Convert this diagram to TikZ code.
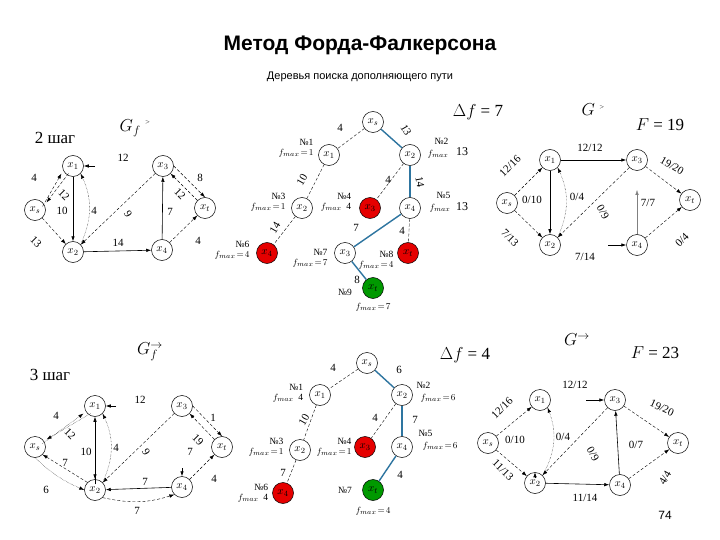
\documentclass[tikz,border=0pt]{standalone}
\usepackage{fontspec}
\setmainfont{Liberation Serif}
\setsansfont{Liberation Sans}
\usetikzlibrary{arrows.meta}
\begin{document}
\begin{tikzpicture}[x=1pt,y=-1pt,
 v/.style={circle,draw,line width=0.5pt,minimum size=21pt,inner sep=0pt,font=\fontsize{11}{11}\selectfont},
 rv/.style={v,fill=red!90!black},
 gv/.style={v,fill=green!60!black},
 lb/.style={font=\fontsize{11}{11}\selectfont,inner sep=1pt},
 fl/.style={font=\fontsize{9.5}{10}\selectfont,inner sep=1pt},
 ar/.style={-{Latex[length=5pt,width=3.5pt]},line width=0.4pt},
 da/.style={ar,densely dashed},
 dt/.style={ar,densely dotted},
 sl/.style={ar,line width=0.6pt},
 te/.style={densely dashed,line width=0.4pt},
 bl/.style={line width=1.4pt,draw={rgb,255:red,46;green,117;blue,160}}]
\useasboundingbox[fill=white] (0,0) rectangle (720,540);
\node[font=\sffamily\bfseries\fontsize{21}{21}\selectfont] (title) at (360,45) {Метод Форда-Фалкерсона};
\node[font=\sffamily\fontsize{11}{11}\selectfont] (sub) at (360,77) {Деревья поиска дополняющего пути};

% ---------- panel 1: G_f step 2
\node[font=\fontsize{17}{17}\selectfont] (s2) at (55,138) {2 шаг};
\node[font=\fontsize{17}{17}\selectfont] (gf1) at (135,128) {$G_f$ \raisebox{1ex}{\tiny$>$}};
\node[v] (a1) at (73,166) {$x_1$};
\node[v] (a3) at (163,166) {$x_3$};
\node[v] (as) at (35,210) {$x_s$};
\node[v] (at) at (205,208) {$x_t$};
\node[v] (a2) at (73,252) {$x_2$};
\node[v] (a4) at (162,250) {$x_4$};
\coordinate (a1r) at (95,166);
\draw[sl] (a1r) -- (a1);
\draw[da] ([yshift=-4]as.north east) -- ([xshift=-4]a1.south west);
\draw[da] ([xshift=3]a1.south west) -- ([xshift=4]as.north east);
\draw[da] (as) -- (a2);
\draw[sl] (a1) -- (a2);
\draw[dt] (a2.north east) to[bend right=25] (a1.south east);
\draw[da] (a3) -- (a2);
\draw[sl] (a2) -- (a4);
\draw[sl] (a4) -- (a3);
\draw[da] (a3.east) -- (at.north);
\draw[da] (at.north west) -- (a3.south east);
\draw[da] (a4) -- (at);
\node[lb] (l11) at (34,178) {4};
\node[lb,rotate=-45] (l12) at (64,195) {12};
\node[lb] (l13) at (123,158) {12};
\node[lb] (l14) at (62,211) {10};
\node[lb] (l15) at (94,211) {4};
\node[lb,rotate=-60] (l16) at (128,214) {9};
\node[lb] (l17) at (170,212) {7};
\node[lb] (l18) at (200,178) {8};
\node[lb,rotate=-45] (l19) at (180,194) {12};
\node[lb,rotate=-45] (l110) at (36,242) {13};
\node[lb] (l111) at (118,243) {14};
\node[lb] (l112) at (198,241) {4};

% ---------- panel 2: tree step 2
\node[v] (b0) at (373,122) {$x_s$};
\node[v] (b1) at (329,155) {$x_1$};
\node[v] (b2) at (410,155) {$x_2$};
\node[v] (b3) at (302,208) {$x_2$};
\node[rv] (b4) at (370,208) {$x_3$};
\node[v] (b5) at (410,208) {$x_4$};
\node[rv] (b6) at (267,253) {$x_4$};
\node[v] (b7) at (345,253) {$x_3$};
\node[rv] (b8) at (408,253) {$x_t$};
\node[gv] (b9) at (373,288) {$x_t$};
\draw[te] (b0) -- (b1);
\draw[bl] (b0) -- (b2);
\draw[te] (b1) -- (b3);
\draw[te] (b2) -- (b4);
\draw[bl] (b2) -- (b5);
\draw[te] (b3) -- (b6);
\draw[bl] (b5) -- (b7);
\draw[te] (b5) -- (b8);
\draw[bl] (b7) -- (b9);
\node[lb] (m1) at (340,128) {4};
\node[lb,rotate=-60] (m2) at (406,130) {13};
\node[lb,rotate=60] (m3) at (302,180) {10};
\node[lb] (m4) at (388,180) {4};
\node[lb,rotate=-80] (m5) at (420,182) {14};
\node[lb,rotate=60] (m6) at (275,228) {14};
\node[lb] (m7) at (356,228) {7};
\node[lb] (m8) at (402,231) {4};
\node[lb] (m9) at (357,280) {8};
\node[fl,align=right] (n1) at (296,148) {№1\\$f_{max}\!=\!1$};
\node[fl,align=right] (n2) at (434,148) {№2\\[2pt]\hspace*{8pt}$f_{max}$};
\node[fl,align=right] (n3) at (268,202) {№3\\$f_{max}\!=\!1$};
\node[fl,align=right] (n4) at (336,202) {№4\\$f_{max}$\ \ 4};
\node[fl,align=right] (n5) at (436,202) {№5\\[2pt]\hspace*{8pt}$f_{max}$};
\node[fl,align=right] (n6) at (232,250) {№6\\$f_{max}\!=\!4$};
\node[fl,align=right] (n7) at (310,258) {№7\\$f_{max}\!=\!7$};
\node[fl,align=right] (n8) at (376,260) {№8\\$f_{max}\!=\!4$};
\node[fl] (n9) at (345,292) {№9};
\node[fl] (n9f) at (373,307) {$f_{max}\!=\!7$};
\node[lb,font=\fontsize{12}{12}\selectfont] (t13a) at (462,152) {13};
\node[lb,font=\fontsize{12}{12}\selectfont] (t13b) at (462,207) {13};
\node[font=\fontsize{17}{17}\selectfont] (df1) at (478,112) {$\Delta f$ = 7};

% ---------- panel 3: G step 2
\node[font=\fontsize{17}{17}\selectfont] (g1) at (593,110) {$G$ \raisebox{1ex}{\tiny$>$}};
\node[font=\fontsize{17}{17}\selectfont] (F1) at (660,125) {$F$ = 19};
\node[v] (c1) at (550,160) {$x_1$};
\node[v] (c3) at (637,160) {$x_3$};
\node[v] (cs) at (507,203) {$x_s$};
\node[v] (ct) at (690,200) {$x_t$};
\node[v] (c2) at (550,245) {$x_2$};
\node[v] (c4) at (637,245) {$x_4$};
\coordinate (c4l) at (612,245);
\coordinate (c3b) at (637,190);
\draw[da] (cs) -- (c1);
\draw[da] (cs) -- (c2);
\draw[sl] (c1) -- (c3);
\draw[da] (c3) -- (ct);
\draw[sl] (c1) -- (c2);
\draw[dt] (c2.north east) to[bend right=25] (c1.south east);
\draw[da] (c3) -- (c2);
\draw[ar,gray] (c4) -- (c3b);
\draw[sl] ([xshift=-4]c4l) -- (c4);
\draw[da] (c4) -- (ct);
\node[lb] (k1) at (590,148) {12/12};
\node[lb,rotate=-30] (k2) at (672,166) {19/20};
\node[lb,rotate=45] (k3) at (510,166) {12/16};
\node[lb] (k4) at (532,200) {0/10};
\node[lb] (k5) at (577,197) {0/4};
\node[lb,rotate=-60] (k6) at (603,212) {0/9};
\node[lb] (k7) at (648,203) {7/7};
\node[lb,rotate=-45] (k8) at (510,238) {7/13};
\node[lb] (k9) at (585,257) {7/14};
\node[lb,rotate=45] (k10) at (682,240) {0/4};

% ---------- panel 4: G_f step 3
\node[font=\fontsize{17}{17}\selectfont] (s3) at (50,375) {3 шаг};
\node[font=\fontsize{17}{17}\selectfont] (gf2) at (150,352) {$G_f^{\rightarrow}$};
\node[v] (d1) at (95,406) {$x_1$};
\node[v] (d3) at (182,406) {$x_3$};
\node[v] (ds) at (35,447) {$x_s$};
\node[v] (dt) at (222,447) {$x_t$};
\node[v] (d2) at (95,490) {$x_2$};
\node[v] (d4) at (182,487) {$x_4$};
\coordinate (d1r) at (116,406);
\coordinate (d4t) at (182,464);
\coordinate (d2t) at (95,467);
\draw[sl] (d1r) -- (d1);
\draw[sl] ([yshift=-4]d4t) -- (d4);
\draw[sl] ([yshift=-4]d2t) -- (d2);
\draw[dt] ([yshift=-4]ds.north east) -- ([xshift=-4]d1.south west);
\draw[dt] ([xshift=3]d1.south west) -- ([xshift=4]ds.north east);
\draw[sl] ([yshift=-5]d2.north) -- (d1);
\draw[dt] (d2.north east) to[bend right=25] (d1.south east);
\draw[da] (d3) -- (d2);
\draw[da] (d3.east) -- (dt.north);
\draw[da] (dt.north west) -- (d3.south east);
\draw[da] (d4) -- (dt);
\draw[da] (d2.north west) -- (ds.south east);
\draw[dt] (ds.south) to[bend right=10] (d2.west);
\draw[sl] (d4) -- (d2);
\draw[da] (d2.south east) to[bend right=15] (d4.south west);
\node[lb] (e1) at (56,416) {4};
\node[lb,rotate=-45] (e2) at (70,434) {12};
\node[lb] (e3) at (140,400) {12};
\node[lb] (e4) at (86,452) {10};
\node[lb] (e5) at (116,448) {4};
\node[lb,rotate=-60] (e6) at (146,452) {9};
\node[lb] (e7) at (190,452) {7};
\node[lb] (e8) at (213,418) {1};
\node[lb,rotate=-45] (e9) at (198,440) {19};
\node[lb] (e10) at (65,463) {7};
\node[lb] (e11) at (46,490) {6};
\node[lb] (e12) at (145,482) {7};
\node[lb] (e13) at (137,511) {7};
\node[lb] (e14) at (214,479) {4};

% ---------- panel 5: tree step 3
\node[v] (f0) at (367,363) {$x_s$};
\node[v] (f1) at (320,395) {$x_1$};
\node[v] (f2) at (402,395) {$x_2$};
\node[v] (f3) at (300,450) {$x_2$};
\node[rv] (f4) at (365,447) {$x_3$};
\node[v] (f5) at (402,447) {$x_4$};
\node[rv] (f6) at (283,493) {$x_4$};
\node[gv] (f7) at (373,490) {$x_t$};
\draw[te] (f0) -- (f1);
\draw[bl] (f0) -- (f2);
\draw[te] (f1) -- (f3);
\draw[te] (f2) -- (f4);
\draw[bl] (f2) -- (f5);
\draw[te] (f3) -- (f6);
\draw[bl] (f5) -- (f7);
\node[lb] (o1) at (333,368) {4};
\node[lb] (o2) at (399,370) {6};
\node[lb,rotate=60] (o3) at (304,420) {10};
\node[lb] (o4) at (375,418) {4};
\node[lb] (o5) at (415,420) {7};
\node[lb] (o6) at (283,473) {7};
\node[lb] (o7) at (400,475) {4};
\node[fl,align=right] (p1) at (288,393) {№1\\$f_{max}$\ \ 4};
\node[fl,align=left] (p2) at (436,392) {№2\\[2pt]\hspace*{4pt}$f_{max}\!=\!6$};
\node[fl,align=right] (p3) at (266,447) {№3\\$f_{max}\!=\!1$};
\node[fl,align=right] (p4) at (334,447) {№4\\$f_{max}\!=\!1$};
\node[fl,align=left] (p5) at (438,440) {№5\\[2pt]\hspace*{4pt}$f_{max}\!=\!6$};
\node[fl,align=right] (p6) at (253,493) {№6\\$f_{max}$\ \ 4};
\node[fl] (p7) at (345,490) {№7};
\node[fl] (p7f) at (373,511) {$f_{max}\!=\!4$};
\node[font=\fontsize{17}{17}\selectfont] (df2) at (465,355) {$\Delta f$ = 4};

% ---------- panel 6: G step 3
\node[font=\fontsize{17}{17}\selectfont] (g2) at (577,340) {$G^{\rightarrow}$};
\node[font=\fontsize{17}{17}\selectfont] (F2) at (655,353) {$F$ = 23};
\node[v] (h1) at (540,400) {$x_1$};
\node[v] (h3) at (615,400) {$x_3$};
\node[v] (hs) at (488,443) {$x_s$};
\node[v] (ht) at (678,443) {$x_t$};
\node[v] (h2) at (535,483) {$x_2$};
\node[v] (h4) at (620,485) {$x_4$};
\coordinate (h3l) at (590,400);
\draw[sl] ([xshift=-4]h3l) -- (h3);
\draw[da] (hs) -- (h1);
\draw[da] (hs) -- (h2);
\draw[sl] ([yshift=-6]h2.north) -- (h2);
\draw[dt] (h2.north east) to[bend right=25] (h1.south east);
\draw[da] (h3) -- (h2);
\draw[sl] (h2) -- (h4);
\draw[sl] (h4) -- (h3);
\draw[da] (h3) -- (ht);
\draw[da] (h4) -- (ht);
\node[lb] (q1) at (575,385) {12/12};
\node[lb,rotate=-25] (q2) at (662,408) {19/20};
\node[lb,rotate=45] (q3) at (502,408) {12/16};
\node[lb] (q4) at (515,440) {0/10};
\node[lb] (q5) at (563,437) {0/4};
\node[lb,rotate=-60] (q6) at (593,454) {0/9};
\node[lb] (q7) at (636,445) {0/7};
\node[lb,rotate=-45] (q8) at (503,470) {11/13};
\node[lb] (q9) at (585,498) {11/14};
\node[lb,rotate=60] (q10) at (665,478) {4/4};
\node[font=\sffamily\fontsize{12}{12}\selectfont] (pg) at (665,515) {74};
\end{tikzpicture}
\end{document}
